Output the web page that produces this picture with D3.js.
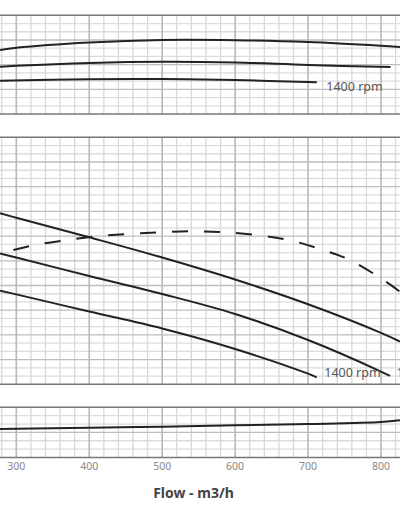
<!DOCTYPE html>
<html>
<head>
<meta charset="utf-8">
<script src="https://cdn.jsdelivr.net/npm/d3@7"></script>
<style>
html,body{margin:0;padding:0;background:#fff;}
svg{display:block;}
text{font-family:"Noto Sans","DejaVu Sans",sans-serif;}
</style>
</head>
<body>
<svg id="chart" width="400" height="516"></svg>
<script>
// ---- data (flow in m3/h, values in grid units) ----
const xTicks = [300, 400, 500, 600, 700, 800];
const xTickLabels = ["300", "400", "500", "600", "700", "800"];

// top panel curves
const topFlow1 = [277.7, 300, 400, 500, 600, 700, 800, 826];
const topVal1  = [7.78, 8.05, 8.69, 9.00, 8.97, 8.75, 8.30, 8.15];
const topFlow2 = [277.7, 300, 400, 500, 600, 700, 813];
const topVal2  = [5.75, 5.86, 6.20, 6.35, 6.26, 5.96, 5.71];
const topFlow3 = [277.7, 400, 500, 600, 712];
const topVal3  = [4.05, 4.23, 4.26, 4.13, 3.85];

// middle panel curves
const midFlowA = [277.7, 300, 400, 500, 600, 700, 800, 826];
const midValA  = [20.77, 20.22, 17.85, 15.40, 12.73, 9.72, 6.25, 5.20];
const midFlowB = [277.7, 300, 400, 500, 600, 700, 800, 812.4];
const midValB  = [15.89, 15.40, 13.15, 10.97, 8.54, 5.38, 1.55, 1.01];
const midFlowC = [277.7, 300, 400, 500, 600, 700, 711.9];
const midValC  = [11.37, 10.92, 8.84, 6.78, 4.29, 1.29, 0.85];
const dashFlow = [296, 318.8, 362.3, 405.6, 450.4, 494.7, 540.5, 584.8, 629.6, 673, 716.4, 755.2, 796.4, 826, 840];
const dashVal  = [16.31, 16.80, 17.44, 17.93, 18.25, 18.46, 18.58, 18.46, 18.13, 17.53, 16.43, 15.18, 13.07, 11.25, 10.2];

// bottom panel curve
const botFlow = [277.7, 400, 500, 600, 700, 800, 826];
const botVal  = [3.41, 3.56, 3.69, 3.84, 4.00, 4.24, 4.45];

const labelTop = "1400 rpm";
const labelMid = "1400 rpm";
const labelMid2 = "1600 rpm";
const xTitle = "Flow - m3/h";

// ---- drawing ----
const svg = d3.select("#chart");
const x = d3.scaleLinear().domain([300, 800]).range([16.3, 381]);

const panels = [
  {top: 15.3, bottom: 114, max: 12},
  {top: 137.3, bottom: 384.3, max: 30},
  {top: 407.3, bottom: 457.5, max: 6}
];
panels.forEach(p => { p.y = d3.scaleLinear().domain([0, p.max]).range([p.bottom, p.top]); });

function drawGrid(p) {
  const g = svg.append("g");
  const vMinor = d3.range(280, 830, 20).filter(v => v % 100 !== 0);
  const vMajor = d3.range(300, 830, 100);
  const hMinor = d3.range(1, p.max).filter(v => v % 3 !== 0);
  const hMajor = d3.range(3, p.max, 3);
  g.selectAll(".hm").data(hMinor).join("line")
    .attr("x1", 0).attr("x2", 400)
    .attr("y1", d => p.y(d)).attr("y2", d => p.y(d))
    .attr("stroke", "#dcdcdc").attr("stroke-width", 1.3);
  g.selectAll(".vm").data(vMinor).join("line")
    .attr("x1", d => x(d)).attr("x2", d => x(d))
    .attr("y1", p.top).attr("y2", p.bottom)
    .attr("stroke", "#d8d8d8").attr("stroke-width", 1.3);
  g.selectAll(".hM").data(hMajor).join("line")
    .attr("x1", 0).attr("x2", 400)
    .attr("y1", d => p.y(d)).attr("y2", d => p.y(d))
    .attr("stroke", "#bdbdbd").attr("stroke-width", 1.3);
  g.selectAll(".vM").data(vMajor).join("line")
    .attr("x1", d => x(d)).attr("x2", d => x(d))
    .attr("y1", p.top).attr("y2", p.bottom)
    .attr("stroke", "#b8b8b8").attr("stroke-width", 1.6);
  g.selectAll(".border").data([0, p.max]).join("line")
    .attr("x1", 0).attr("x2", 400)
    .attr("y1", d => p.y(d)).attr("y2", d => p.y(d))
    .attr("stroke", "#777").attr("stroke-width", 1.6);
}
panels.forEach(drawGrid);

function drawCurve(p, flows, vals, dashed) {
  const pts = flows.map((f, i) => [f, vals[i]]);
  const line = d3.line().x(d => x(d[0])).y(d => p.y(d[1])).curve(d3.curveCatmullRom.alpha(0.5));
  const path = svg.append("path").datum(pts)
    .attr("d", line).attr("fill", "none")
    .attr("stroke", "#222").attr("stroke-width", 2);
  if (dashed) path.attr("stroke-dasharray", "16,16");
  return pts[pts.length - 1];
}

drawCurve(panels[0], topFlow1, topVal1);
drawCurve(panels[0], topFlow2, topVal2);
const endT3 = drawCurve(panels[0], topFlow3, topVal3);
drawCurve(panels[1], midFlowA, midValA);
const endB = drawCurve(panels[1], midFlowB, midValB);
const endC = drawCurve(panels[1], midFlowC, midValC);
drawCurve(panels[1], dashFlow, dashVal, true);
drawCurve(panels[2], botFlow, botVal);

svg.append("text").attr("x", x(endT3[0]) + 9.5).attr("y", panels[0].y(endT3[1]) + 8.4)
  .attr("font-size", 12.5).attr("fill", "#555").text(labelTop);
svg.append("text").attr("x", x(endC[0]) + 7.5).attr("y", panels[1].y(endC[1]))
  .attr("font-size", 12.5).attr("fill", "#555").text(labelMid);
svg.append("text").attr("x", x(endB[0]) + 6.5).attr("y", panels[1].y(endC[1]))
  .attr("font-size", 12.5).attr("fill", "#555").text(labelMid2);

// x axis labels
svg.selectAll(".xt").data(xTicks).join("text")
  .attr("x", d => x(d)).attr("y", 470)
  .attr("text-anchor", "middle").attr("font-size", 10.5).attr("fill", "#888")
  .text((d, i) => xTickLabels[i]);

svg.append("text").attr("x", 193.5).attr("y", 498)
  .attr("text-anchor", "middle").attr("font-size", 14).attr("font-weight", "bold")
  .attr("fill", "#444").text(xTitle);
</script>
</body>
</html>
